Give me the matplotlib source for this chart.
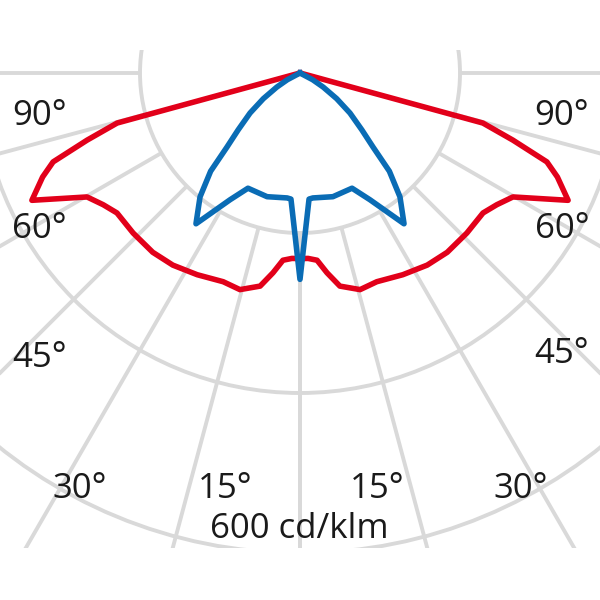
"""Polar light distribution curve (cd/klm), two C-planes."""

import matplotlib
matplotlib.use("Agg")
import matplotlib.pyplot as plt
from matplotlib.patches import Circle, Rectangle
import numpy as np

# half curves, angle from nadir (deg) -> intensity (cd/klm), mirrored left/right
red_angles = [0, 2.5, 5.2, 7.7, 10.6, 15.5, 20.2, 27.0, 33.5, 39.4, 46.2, 52.6,
              56.2, 59.8, 64.6, 68.0, 70.2, 72.5, 74.7, 90]
red_values = [232, 232, 235, 252, 271, 281, 278, 283, 288, 290, 289, 288,
              296, 308, 371, 347, 328, 279, 237, 0]

blue_angles = [0, 4.1, 5.9, 14.9, 24.3, 28.9, 34.6, 38.9, 42.3, 44.6, 47.4,
               51.3, 55.0, 58.7, 62.0, 90]
blue_values = [258, 158, 157, 160, 158, 181, 229, 199, 166, 130, 105,
               80, 56, 34, 18, 0]

ring_values = [200, 400, 600]
spoke_angles = [0, 15, 30, 45, 60, 75, 90]

angle_labels = ["90°", "60°", "45°", "30°", "15°"]
scale_label = "600 cd/klm"

GRID = "#d9d9d9"
RED = "#e2001a"
BLUE = "#0a6cb5"
TEXT = "#1a1a1a"


def mirrored(angles, values):
    a = np.radians(np.asarray(angles, dtype=float))
    v = np.asarray(values, dtype=float)
    x_right = v * np.sin(a)
    y = -v * np.cos(a)
    x = np.concatenate([-x_right[::-1], x_right])
    y = np.concatenate([y[::-1], y])
    return x, y


fig = plt.figure(figsize=(6, 6), dpi=100)
ax = fig.add_axes([0, 0, 1, 1])
ax.set_xlim(-375, 375)
ax.set_ylim(-658.75, 91.25)
ax.set_aspect("equal")
ax.axis("off")

clip = Rectangle((-375, -593.75), 750, 622.5, transform=ax.transData,
                 facecolor="none", edgecolor="none")
ax.add_patch(clip)

for r in ring_values:
    c = Circle((0, 0), r, fill=False, edgecolor=GRID, linewidth=2.8, zorder=1)
    ax.add_patch(c)
    c.set_clip_path(clip)

r0 = ring_values[0]
for ang in spoke_angles:
    t = np.radians(ang)
    for side in (-1, 1):
        ln, = ax.plot([side * r0 * np.sin(t), side * 1000 * np.sin(t)],
                      [-r0 * np.cos(t), -1000 * np.cos(t)],
                      color=GRID, linewidth=2.8, solid_capstyle="butt", zorder=1)
        ln.set_clip_path(clip)

rx, ry = mirrored(red_angles, red_values)
ax.plot(rx, ry, color=RED, linewidth=4.0, solid_joinstyle="round", zorder=3)
bx, by = mirrored(blue_angles, blue_values)
ax.plot(bx, by, color=BLUE, linewidth=4.0, solid_joinstyle="round", zorder=4)

font = dict(family=["Open Sans", "DejaVu Sans"], fontsize=25, color=TEXT,
            ha="center", va="baseline", zorder=5)
label_pos = {
    "90°": [(-325, -65), (327.5, -65)],
    "60°": [(-326, -206), (327.5, -206)],
    "45°": [(-326, -367), (327.5, -362)],
    "30°": [(-276, -531), (276, -531)],
    "15°": [(-94, -531), (96, -531)],
}
for lab in angle_labels:
    for x, y in label_pos[lab]:
        ax.text(x, y, lab, **font)
ax.text(-1, -581, scale_label, **font)

fig.savefig("out.png", dpi=100)
